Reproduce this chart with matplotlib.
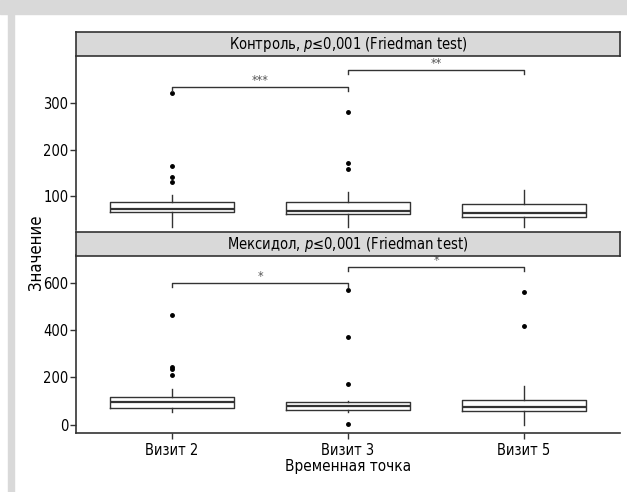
import matplotlib
matplotlib.use("Agg")
import matplotlib.pyplot as plt
from matplotlib.patches import Rectangle

plt.rcParams['font.family'] = ['DejaVu Sans']
plt.rcParams['font.stretch'] = 'condensed'
plt.rcParams['mathtext.fontset'] = 'custom'
plt.rcParams['mathtext.it'] = 'DejaVu Sans:italic:stretch=condensed'
plt.rcParams['mathtext.rm'] = 'DejaVu Sans:stretch=condensed'

visits = ["Визит 2", "Визит 3", "Визит 5"]

# Контроль
ctrl_med = [72, 68, 63]
ctrl_q1 = [65, 61, 55]
ctrl_q3 = [87, 88, 82]
ctrl_lo = [33, 33, 33]
ctrl_hi = [102, 109, 113]
ctrl_fliers = [[321, 165, 141, 130], [281, 172, 158], []]
ctrl_pairs = [(1, 2), (2, 3)]
ctrl_heights = [334, 371]
ctrl_labels = ["***", "**"]

# Мексидол
mex_med = [94, 77, 75]
mex_q1 = [68, 62, 57]
mex_q3 = [117, 96, 103]
mex_lo = [51, 53, 0]
mex_hi = [150, 99, 161]
mex_fliers = [[462, 245, 235, 209], [570, 372, 171, 3], [563, 416]]
mex_pairs = [(1, 2), (2, 3)]
mex_heights = [600, 668]
mex_labels = ["*", "*"]

line_c = "#333333"
strip_c = "#d9d9d9"

fig = plt.figure(figsize=(6.27, 4.92), dpi=100)

# серая рамка
fig.patches.append(Rectangle((0, 1 - 14 / 492), 1, 14 / 492, transform=fig.transFigure,
                             color="#d9d9d9", zorder=0))
fig.patches.append(Rectangle((8 / 627, 0), 6 / 627, 1 - 14 / 492, transform=fig.transFigure,
                             color="#d9d9d9", zorder=0))


def panel(rect, strip_rect, title, med, q1, q3, lo, hi, fliers, pairs, heights, labels,
          ylim, yticks, tick_len, bottom_axis):
    ax = fig.add_axes(rect)
    stats = []
    for i in range(len(visits)):
        stats.append(dict(med=med[i], q1=q1[i], q3=q3[i], whislo=lo[i], whishi=hi[i],
                          fliers=fliers[i]))
    ax.bxp(stats, positions=[1, 2, 3], widths=0.705, showcaps=False,
           boxprops=dict(color=line_c, lw=1.0),
           medianprops=dict(color=line_c, lw=1.6),
           whiskerprops=dict(color=line_c, lw=1.0),
           flierprops=dict(marker="o", markersize=2.5, markerfacecolor="black",
                           markeredgecolor="black"))
    for (a, b), h, lab in zip(pairs, heights, labels):
        ax.plot([a, a, b, b], [h - tick_len, h, h, h - tick_len], color=line_c, lw=1.0)
        ax.text((a + b) / 2, h, lab, ha="center", va="bottom", fontsize=9, color="#555555")
    ax.set_xlim(0.4545, 3.545)
    ax.set_ylim(*ylim)
    ax.set_yticks(yticks)
    ax.tick_params(axis="y", labelsize=10.5, length=4, width=1, color=line_c, pad=1.5)
    for s in ["top", "right"]:
        ax.spines[s].set_visible(False)
    ax.spines["left"].set_color(line_c)
    ax.spines["left"].set_linewidth(1.2)
    if bottom_axis:
        ax.spines["bottom"].set_color(line_c)
        ax.spines["bottom"].set_linewidth(1.2)
        ax.set_xticks([1, 2, 3])
        ax.set_xticklabels(visits)
        ax.tick_params(axis="x", labelsize=10.5, length=4, width=1, color=line_c, pad=3)
    else:
        ax.spines["bottom"].set_visible(False)
        ax.set_xticks([])
    sx = fig.add_axes(strip_rect)
    sx.set_facecolor(strip_c)
    sx.set_xticks([])
    sx.set_yticks([])
    for s in sx.spines.values():
        s.set_color(line_c)
        s.set_linewidth(1.2)
    sx.text(0.5, 0.5, title, ha="center", va="center", fontsize=10.5, transform=sx.transAxes)
    return ax


panel([76 / 627, (492 - 230) / 492, 544 / 627, 174 / 492],
      [76 / 627, (492 - 56) / 492, 544 / 627, 24 / 492],
      "Контроль, $p$≤0,001 (Friedman test)",
      ctrl_med, ctrl_q1, ctrl_q3, ctrl_lo, ctrl_hi, ctrl_fliers,
      ctrl_pairs, ctrl_heights, ctrl_labels, (27, 401), [100, 200, 300], 9, False)

panel([76 / 627, (492 - 433) / 492, 544 / 627, 178 / 492],
      [76 / 627, (492 - 256) / 492, 544 / 627, 24 / 492],
      "Мексидол, $p$≤0,001 (Friedman test)",
      mex_med, mex_q1, mex_q3, mex_lo, mex_hi, mex_fliers,
      mex_pairs, mex_heights, mex_labels, (-36, 718), [0, 200, 400, 600], 18, True)

fig.text(36.5 / 627, (492 - 252) / 492, "Значение", rotation=90, ha="center", va="center",
         fontsize=12)
fig.text(348 / 627, (492 - 467) / 492, "Временная точка", ha="center", va="center",
         fontsize=11)

fig.savefig("out.png", dpi=100)
